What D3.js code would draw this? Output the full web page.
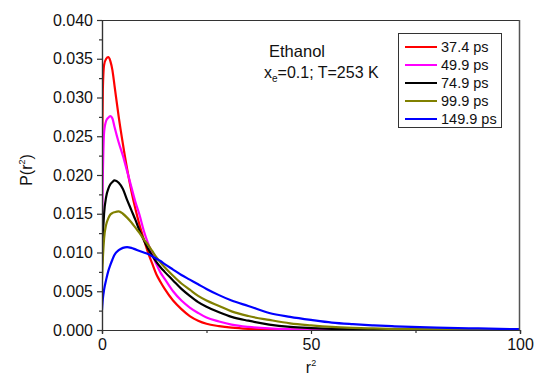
<!DOCTYPE html>
<html><head><meta charset="utf-8">
<script src="https://cdn.jsdelivr.net/npm/d3@7"></script>
<style>body{margin:0;background:#fff}svg{display:block}text{font-family:Arial,"Liberation Sans",sans-serif}</style>
</head><body><svg id="c" width="536" height="375"></svg>
<script>
const r2 = [0,0.2,0.5,1,1.5,2,2.5,3,4,5,6,7,8,9,10,11,12,13,14,15,17,19,21,23,25,28,31,35,40,45,50,55,60,65,70,80,90,100];
const p374 = [0.022,0.031,0.0342,0.0350,0.0352,0.0347,0.0335,0.0315,0.0275,0.0240,0.0208,0.0180,0.0156,0.0135,0.0117,0.0100,0.0086,0.0072,0.0062,0.0053,0.0038,0.0027,0.0018,0.0012,0.0008,0.0005,0.0003,0.00015,0.00008,0.00004,0.00002,0,0,0,0,0,0,0];
const p499 = [0.013,0.020,0.0255,0.0270,0.0274,0.0276,0.0273,0.0262,0.0242,0.0225,0.0205,0.0185,0.0165,0.0148,0.0128,0.0112,0.0098,0.0085,0.0074,0.0066,0.0050,0.0038,0.0029,0.0022,0.0016,0.0011,0.0007,0.0004,0.0002,0.0001,0.00005,0.00002,0,0,0,0,0,0];
const p749 = [0.0085,0.012,0.0150,0.0172,0.0182,0.0188,0.0191,0.0193,0.0190,0.0182,0.0168,0.0155,0.0142,0.0128,0.0116,0.0105,0.0096,0.0088,0.0081,0.0075,0.0064,0.0053,0.0044,0.0036,0.0030,0.0023,0.0017,0.0012,0.0007,0.0004,0.00025,0.00015,0.0001,0.00005,0.00003,0.00001,0,0];
const p999 = [0.0065,0.0092,0.0118,0.0136,0.0144,0.0149,0.0151,0.0152,0.0153,0.0150,0.0145,0.0139,0.0132,0.0125,0.0117,0.0110,0.0102,0.0094,0.0087,0.0081,0.0070,0.0060,0.0052,0.0044,0.0038,0.0031,0.0024,0.0018,0.0013,0.00086,0.0006,0.0004,0.00028,0.0002,0.00014,0.00007,0.00003,0.00001];
const p1499 = [0.0026,0.0040,0.0052,0.0065,0.0076,0.0084,0.0091,0.0097,0.0103,0.0106,0.0107,0.0106,0.0104,0.0102,0.0100,0.0098,0.0095,0.0092,0.0089,0.0085,0.0078,0.0071,0.0065,0.0059,0.0053,0.0045,0.0038,0.0031,0.0022,0.0017,0.0013,0.00095,0.00075,0.0006,0.00048,0.0003,0.0002,0.0001];
const seriesNames = ["37.4 ps","49.9 ps","74.9 ps","99.9 ps","149.9 ps"];
const seriesValues = [p374,p499,p749,p999,p1499];
const seriesColors = ["#ff0000","#ff00ff","#000000","#808000","#0000ff"];
const xTicks = [0,50,100];
const yTicks = [0,0.005,0.010,0.015,0.020,0.025,0.030,0.035,0.040];

const svg = d3.select("#c");
const L=102,R=520,T=20,B=330;
const x = d3.scaleLinear().domain([0,100]).range([L,R]);
const y = d3.scaleLinear().domain([0,0.04]).range([B,T]);

svg.append("defs").append("clipPath").attr("id","clip").append("rect")
  .attr("x",L).attr("y",T).attr("width",R-L).attr("height",B-T);

const line = d3.line().x((d,i)=>x(r2[i])).y(d=>y(d)).curve(d3.curveMonotoneX);
const g = svg.append("g").attr("clip-path","url(#clip)");
seriesValues.forEach((vals,k)=>{
  g.append("path").datum(vals).attr("d",line).attr("fill","none")
   .attr("stroke",seriesColors[k]).attr("stroke-width",2.2).attr("stroke-linejoin","round");
});

// frame
svg.append("line").attr("x1",L).attr("x2",R).attr("y1",T+0.5).attr("y2",T+0.5).attr("stroke","#333").attr("stroke-width",1.2);
svg.append("line").attr("x1",R-0.5).attr("x2",R-0.5).attr("y1",T).attr("y2",B).attr("stroke","#555").attr("stroke-width",1.5);

// axes
const yAxis = svg.append("g").attr("transform",`translate(${L},0)`)
  .call(d3.axisLeft(y).tickValues(yTicks).tickFormat(d3.format(".3f")).tickSize(5).tickPadding(4));
const yMinor = svg.append("g").attr("transform",`translate(${L},0)`)
  .call(d3.axisLeft(y).tickValues(d3.range(0.0025,0.04,0.005)).tickFormat("").tickSize(3));
const xAxis = svg.append("g").attr("transform",`translate(0,${B})`)
  .call(d3.axisBottom(x).tickValues(xTicks).tickSize(4).tickPadding(5));
const xMinor = svg.append("g").attr("transform",`translate(0,${B})`)
  .call(d3.axisBottom(x).tickValues([25,75]).tickFormat("").tickSize(3));
[yAxis,yMinor,xAxis,xMinor].forEach(a=>{
  a.select(".domain").attr("stroke","#333").attr("stroke-width",1.2);
  a.selectAll(".tick line").attr("stroke","#333").attr("stroke-width",1.2);
  a.selectAll("text").attr("font-size",16).attr("fill","#111").attr("font-family","Arial, 'Liberation Sans', sans-serif");
});

// axis labels
const xl = svg.append("text").attr("x",311).attr("y",373).attr("text-anchor","middle").attr("font-size",16).attr("fill","#111");
xl.append("tspan").text("r");
xl.append("tspan").attr("font-size",9).attr("dy",-7).text("2");
const yl = svg.append("text").attr("transform","translate(32,170) rotate(-90)").attr("text-anchor","middle").attr("font-size",16).attr("fill","#111");
yl.append("tspan").text("P(r");
yl.append("tspan").attr("font-size",9).attr("dy",-7).text("2");
yl.append("tspan").attr("dy",7).text(")");

// annotation
svg.append("text").attr("x",297).attr("y",57).attr("text-anchor","middle").attr("font-size",16.5).attr("fill","#111").text("Ethanol");
const t2 = svg.append("text").attr("x",264).attr("y",78).attr("font-size",16).attr("fill","#111");
t2.append("tspan").text("x");
t2.append("tspan").attr("font-size",10).attr("dy",4).text("e");
t2.append("tspan").attr("dy",-4).text("=0.1; T=253 K");

// legend
const lg = svg.append("g");
lg.append("rect").attr("x",398.5).attr("y",33.5).attr("width",103).attr("height",94).attr("fill","#fff").attr("stroke","#333").attr("stroke-width",1);
seriesNames.forEach((n,k)=>{
  const yy = 47 + k*18;
  lg.append("line").attr("x1",405).attr("x2",437).attr("y1",yy).attr("y2",yy).attr("stroke",seriesColors[k]).attr("stroke-width",2);
  lg.append("text").attr("x",441).attr("y",yy+5).attr("font-size",14.5).attr("fill","#111").text(n);
});
</script></body></html>
